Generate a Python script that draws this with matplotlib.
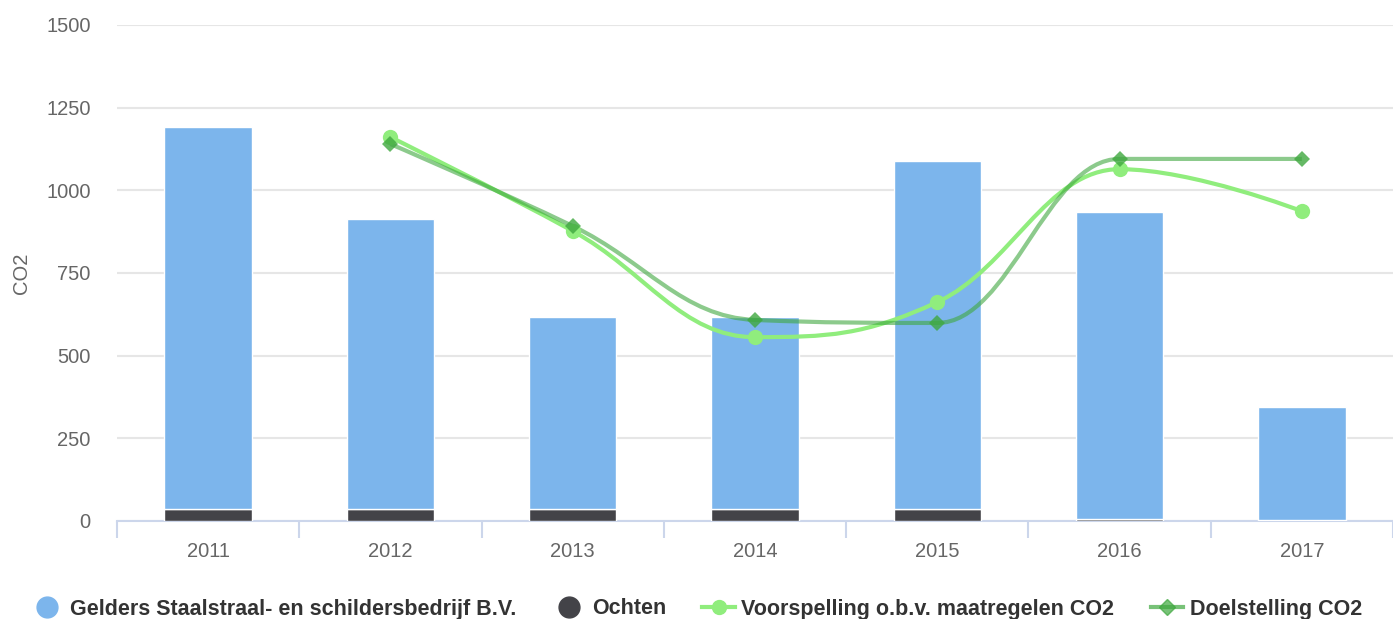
import numpy as np
import matplotlib
matplotlib.use('Agg')
import matplotlib.pyplot as plt
from matplotlib.path import Path
from matplotlib.patches import PathPatch
from matplotlib.lines import Line2D

plt.rcParams['font.family'] = ['Liberation Sans', 'DejaVu Sans']

# ---- data ----
years = ['2011', '2012', '2013', '2014', '2015', '2016', '2017']
ochten = [36, 36, 36, 36, 36, 6, 2]
gelders = [1155, 877, 581, 581, 1053, 928, 343]

line_years_idx = [1, 2, 3, 4, 5, 6]
voorspelling = [1161, 877, 556, 662, 1064, 937]
doelstelling = [1140, 892, 608, 599, 1095, 1095]

series_names = ['Gelders Staalstraal- en schildersbedrijf B.V.', 'Ochten',
                'Voorspelling o.b.v. maatregelen CO2', 'Doelstelling CO2']

c_blue = '#7cb5ec'
c_black = '#434348'
c_light = '#90ed7d'
c_dark = '#3fa83f'


def spline_path(xs, ys, smoothing=1.5):
    """Highcharts-achtige spline: kubische bezier door alle punten."""
    n = len(xs)
    denom = smoothing + 1
    lc = [None] * n
    rc = [None] * n
    for i in range(1, n - 1):
        x, y = xs[i], ys[i]
        lx = (smoothing * x + xs[i - 1]) / denom
        ly = (smoothing * y + ys[i - 1]) / denom
        rx = (smoothing * x + xs[i + 1]) / denom
        ry = (smoothing * y + ys[i + 1]) / denom
        corr = ((ry - ly) * (rx - x)) / (rx - lx) + y - ry
        ly += corr
        ry += corr
        last, nxt = ys[i - 1], ys[i + 1]
        if ly > last and ly > y:
            ly = max(last, y)
            ry = 2 * y - ly
        elif ly < last and ly < y:
            ly = min(last, y)
            ry = 2 * y - ly
        if ry > nxt and ry > y:
            ry = max(nxt, y)
            ly = 2 * y - ry
        elif ry < nxt and ry < y:
            ry = min(nxt, y)
            ly = 2 * y - ry
        lc[i] = (lx, ly)
        rc[i] = (rx, ry)
    verts = [(xs[0], ys[0])]
    codes = [Path.MOVETO]
    for i in range(1, n):
        p1 = rc[i - 1] if rc[i - 1] is not None else (xs[i - 1], ys[i - 1])
        p2 = lc[i] if lc[i] is not None else (xs[i], ys[i])
        verts += [p1, p2, (xs[i], ys[i])]
        codes += [Path.CURVE4] * 3
    return Path(verts, codes)


fig = plt.figure(figsize=(13.93, 6.19), dpi=100)
ax = fig.add_axes([117 / 1393, 98 / 619, 1 - 117 / 1393, 496 / 619])

x = np.arange(len(years))
bw = 0.48
ax.bar(x, ochten, width=bw, color=c_black, edgecolor='white', linewidth=1, zorder=2)
ax.bar(x, gelders, bottom=ochten, width=bw, color=c_blue, edgecolor='white', linewidth=1, zorder=2)

lx = np.array(line_years_idx, dtype=float)
for vals, col, alpha, mk, ms in [(voorspelling, c_light, 1.0, 'o', 11),
                                 (doelstelling, c_dark, 0.6, 'D', 8)]:
    p = spline_path(lx, np.array(vals, dtype=float))
    ax.add_patch(PathPatch(p, facecolor='none', edgecolor=col, alpha=alpha, lw=3, zorder=3))
    ax.plot(lx, vals, linestyle='none', marker=mk, markersize=ms, color=col,
            alpha=min(1.0, alpha + 0.2), markeredgewidth=0, zorder=4)

ax.set_xlim(-0.5, 6.49)
ax.set_ylim(0, 1500)
ax.set_yticks([0, 250, 500, 750, 1000, 1250, 1500])
ax.set_xticks(x)
ax.set_xticklabels(years)
ax.set_xticks(np.arange(-0.5, 6.6, 1), minor=True)
ax.tick_params(axis='x', which='major', length=0, pad=15, labelsize=14.5, labelcolor='#666666')
ax.tick_params(axis='x', which='minor', length=12, width=1.5, color='#ccd6eb')
ax.tick_params(axis='y', length=0, pad=19, labelsize=14.5, labelcolor='#666666')
ax.grid(axis='y', color='#e6e6e6', linewidth=1.5, zorder=0)
ax.set_axisbelow(True)
for s in ['top', 'right', 'left']:
    ax.spines[s].set_visible(False)
ax.spines['bottom'].set_color('#ccd6eb')
ax.spines['bottom'].set_linewidth(1.5)
ax.spines['bottom'].set_zorder(1)
fig.text(22 / 1393, 1 - 273 / 619, 'CO2', rotation=90, ha='center', va='center',
         fontsize=14.5, color='#666666')

handles = [
    Line2D([], [], linestyle='none', marker='o', markersize=15, color=c_blue),
    Line2D([], [], linestyle='none', marker='o', markersize=15, color=c_black),
    Line2D([], [], color=c_light, lw=3, marker='o', markersize=10),
    Line2D([], [], color=c_dark, lw=3, alpha=0.7, marker='D', markersize=8),
]
fig.legend(handles, series_names, loc='center', bbox_to_anchor=(0.5, 10 / 619),
           ncol=4, frameon=False, handlelength=1.5, handletextpad=0.3, columnspacing=1.7,
           prop={'weight': 'bold', 'size': 15.5}, labelcolor='#333333')

fig.savefig('out.png', dpi=100)
